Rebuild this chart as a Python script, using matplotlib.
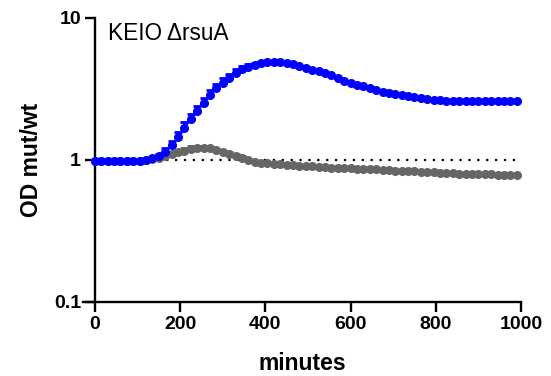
import matplotlib
matplotlib.use("Agg")
import matplotlib.pyplot as plt
from matplotlib.ticker import FixedLocator, NullLocator

plt.rcParams['font.family'] = ['Liberation Sans', 'DejaVu Sans']

minutes = list(range(0, 991, 15))

blue_ratio = [0.98, 0.98, 0.98, 0.98, 0.98, 0.98, 0.98, 0.99, 1.00, 1.03,
              1.07, 1.14, 1.27, 1.45, 1.68, 1.93, 2.20, 2.50, 2.85, 3.20,
              3.50, 3.80, 4.10, 4.35, 4.55, 4.70, 4.80, 4.87, 4.90, 4.88,
              4.82, 4.72, 4.60, 4.45, 4.30, 4.20, 4.10, 3.95, 3.80, 3.62,
              3.50, 3.40, 3.30, 3.20, 3.10, 3.02, 2.97, 2.93, 2.88, 2.84,
              2.79, 2.74, 2.70, 2.66, 2.63, 2.61, 2.60, 2.59, 2.60, 2.59,
              2.60, 2.60, 2.60, 2.60, 2.60, 2.60, 2.60]
blue_err = [0, 0, 0, 0, 0, 0, 0, 0, 0, 0.02,
            0.04, 0.07, 0.10, 0.13, 0.16, 0.18, 0.20, 0.22, 0.24, 0.25,
            0.25, 0.25, 0.24, 0.22, 0.18, 0.14, 0.10, 0.06, 0.03, 0,
            0, 0, 0, 0, 0, 0, 0, 0, 0, 0,
            0, 0, 0, 0, 0, 0, 0, 0, 0, 0,
            0, 0, 0, 0, 0, 0, 0, 0, 0, 0,
            0, 0, 0, 0, 0, 0, 0]

gray_ratio = [0.98, 0.98, 0.98, 0.98, 0.98, 0.98, 0.98, 0.99, 1.00, 1.02,
              1.04, 1.07, 1.10, 1.13, 1.16, 1.19, 1.21, 1.22, 1.21, 1.18,
              1.14, 1.10, 1.06, 1.03, 1.00, 0.97, 0.96, 0.95, 0.94, 0.93,
              0.92, 0.915, 0.91, 0.905, 0.90, 0.895, 0.89, 0.885, 0.88, 0.877,
              0.874, 0.87, 0.866, 0.862, 0.858, 0.853, 0.848, 0.843, 0.838, 0.834,
              0.830, 0.826, 0.822, 0.818, 0.814, 0.810, 0.806, 0.803, 0.800, 0.798,
              0.796, 0.794, 0.792, 0.790, 0.788, 0.786, 0.785]
gray_err = [0, 0, 0, 0, 0, 0, 0, 0, 0, 0,
            0, 0.01, 0.03, 0.05, 0.06, 0.06, 0.05, 0.03, 0.02, 0.02,
            0.02, 0.03, 0.04, 0.04, 0.02, 0, 0, 0, 0, 0,
            0, 0, 0, 0, 0, 0, 0, 0, 0, 0,
            0, 0, 0, 0, 0, 0, 0, 0, 0, 0,
            0, 0, 0, 0, 0, 0, 0, 0, 0, 0,
            0, 0, 0, 0, 0, 0, 0]

x_ticks = [0, 200, 400, 600, 800, 1000]
y_ticks = [0.1, 1, 10]
y_tick_labels = ["0.1", "1", "10"]

fig = plt.figure(figsize=(5.51, 3.76), dpi=100)
ax = fig.add_axes([83/551, 1 - 302/376, (521 - 83)/551, (302 - 18)/376])

ax.hlines(1, 0, 990, colors='black', linestyles=(0, (1, 3)), linewidth=1.6, zorder=1)

gray_col = '#666666'
blue_col = '#0000FF'
ax.errorbar(minutes, gray_ratio, yerr=[[0]*len(gray_err), gray_err], color=gray_col,
            marker='o', markersize=5.5, linewidth=1.2, capsize=3, elinewidth=1.5,
            capthick=2, zorder=2)
ax.errorbar(minutes, blue_ratio, yerr=[[0]*len(blue_err), blue_err], color=blue_col,
            marker='o', markersize=5.5, linewidth=1.2, capsize=3, elinewidth=1.5,
            capthick=2, zorder=3)

ax.set_yscale('log')
ax.set_ylim(0.1, 10)
ax.set_xlim(-28, 1000)
ax.spines['left'].set_position(('data', 0))
ax.spines['top'].set_visible(False)
ax.spines['right'].set_visible(False)
for s in ('left', 'bottom'):
    ax.spines[s].set_linewidth(1.7)

ax.yaxis.set_major_locator(FixedLocator(y_ticks))
ax.yaxis.set_minor_locator(NullLocator())
ax.set_yticklabels(y_tick_labels)
ax.set_xticks(x_ticks)
ax.tick_params(axis='both', which='major', direction='out', length=7, width=1.7,
               labelsize=14, pad=3)
for lab in ax.get_xticklabels() + ax.get_yticklabels():
    lab.set_fontweight('bold')

ax.set_xlabel('minutes', fontsize=16.5, fontweight='bold', labelpad=14)
ax.set_ylabel('OD mut/wt', fontsize=16.5, fontweight='bold', labelpad=8)
ax.text(0.057, 0.985, 'KEIO ΔrsuA', transform=ax.transAxes, fontsize=16.3,
        va='top', ha='left')

fig.savefig('out.png', dpi=100)
